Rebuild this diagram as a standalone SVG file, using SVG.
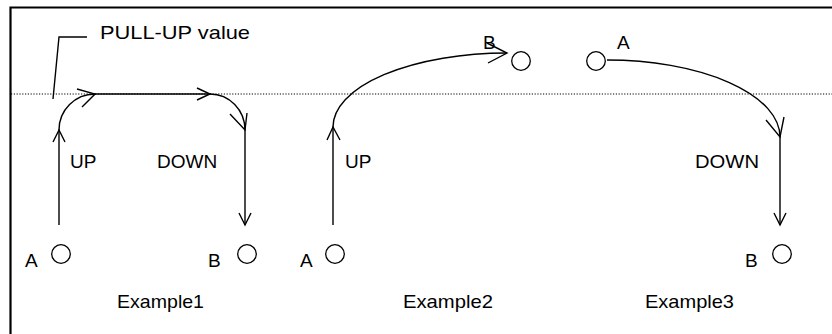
<svg xmlns="http://www.w3.org/2000/svg" width="832" height="334" viewBox="0 0 832 334">
<style>
.frame{fill:none;stroke:#000;stroke-width:2.2}
.dot{fill:none;stroke:#000;stroke-width:1;stroke-dasharray:1.2 1.6}
.ln{fill:none;stroke:#000;stroke-width:1.4}
.ah{fill:none;stroke:#000;stroke-width:1.4;stroke-linejoin:miter}
.pt{fill:#fff;stroke:#000;stroke-width:1.3}
text{font-family:"Liberation Sans",Arial,sans-serif;font-size:19px;fill:#000}
</style>
<rect width="832" height="334" fill="#fff"/>
<path class="frame" d="M10.5 334 V7.5 H832"/>
<line class="dot" x1="11" y1="94" x2="832" y2="94"/>
<g id="pullup-label">
<path class="ln" d="M53 99 L59 37 H87"/>
<text x="100" y="39" textLength="150" lengthAdjust="spacingAndGlyphs">PULL-UP value</text>
</g>
<g id="connectors">
<!-- Example 1 -->
<path class="ln" d="M59 225 V130"/>
<path class="ah" d="M53 142 L59 130 L65 142"/>
<path class="ln" d="M59 130 A36 36 0 0 1 95 94"/>
<path class="ah" d="M77 89 L95 94 L82 107"/>
<path class="ln" d="M95 94 H210"/>
<path class="ah" d="M197 88 L210 94 L197 100"/>
<path class="ln" d="M210 94 A35 36 0 0 1 245 130"/>
<path class="ah" d="M230 114 L245 130 L247 113"/>
<path class="ln" d="M245 130 V225"/>
<path class="ah" d="M239 213 L245 225 L251 213"/>
<!-- Example 2 -->
<path class="ln" d="M333 225 V127"/>
<path class="ah" d="M327 140 L333 127 L340 140"/>
<path class="ln" d="M333 127 A174 74 0 0 1 507 53"/>
<path class="ah" d="M487 43 L507 53 L488 63"/>
<!-- Example 3 -->
<path class="ln" d="M607 60 A173 77 0 0 1 780 137"/>
<path class="ah" d="M766 120 L780 137 L784 117"/>
<path class="ln" d="M780 137 V225"/>
<path class="ah" d="M774 213 L780 225 L786 213"/>
</g>
<g id="ex1-A"><circle class="pt" cx="61" cy="254" r="9.3"/><text x="25" y="267">A</text></g>
<g id="ex1-B"><circle class="pt" cx="247" cy="254" r="9.3"/><text x="208" y="267">B</text></g>
<g id="ex2-A"><circle class="pt" cx="335" cy="254" r="9.3"/><text x="300" y="267">A</text></g>
<g id="ex2-B"><circle class="pt" cx="521" cy="61" r="9.3"/><text x="483" y="49">B</text></g>
<g id="ex3-A"><circle class="pt" cx="596" cy="61" r="9.3"/><text x="617" y="49">A</text></g>
<g id="ex3-B"><circle class="pt" cx="782" cy="254" r="9.3"/><text x="745" y="267">B</text></g>
<g id="labels">
<text x="70" y="168">UP</text>
<text x="157" y="168">DOWN</text>
<text x="345" y="168">UP</text>
<text x="695" y="168" textLength="64" lengthAdjust="spacingAndGlyphs">DOWN</text>
<text x="117" y="308" textLength="87" lengthAdjust="spacingAndGlyphs">Example1</text>
<text x="403" y="308" textLength="90" lengthAdjust="spacingAndGlyphs">Example2</text>
<text x="645" y="308" textLength="89" lengthAdjust="spacingAndGlyphs">Example3</text>
</g>
</svg>
